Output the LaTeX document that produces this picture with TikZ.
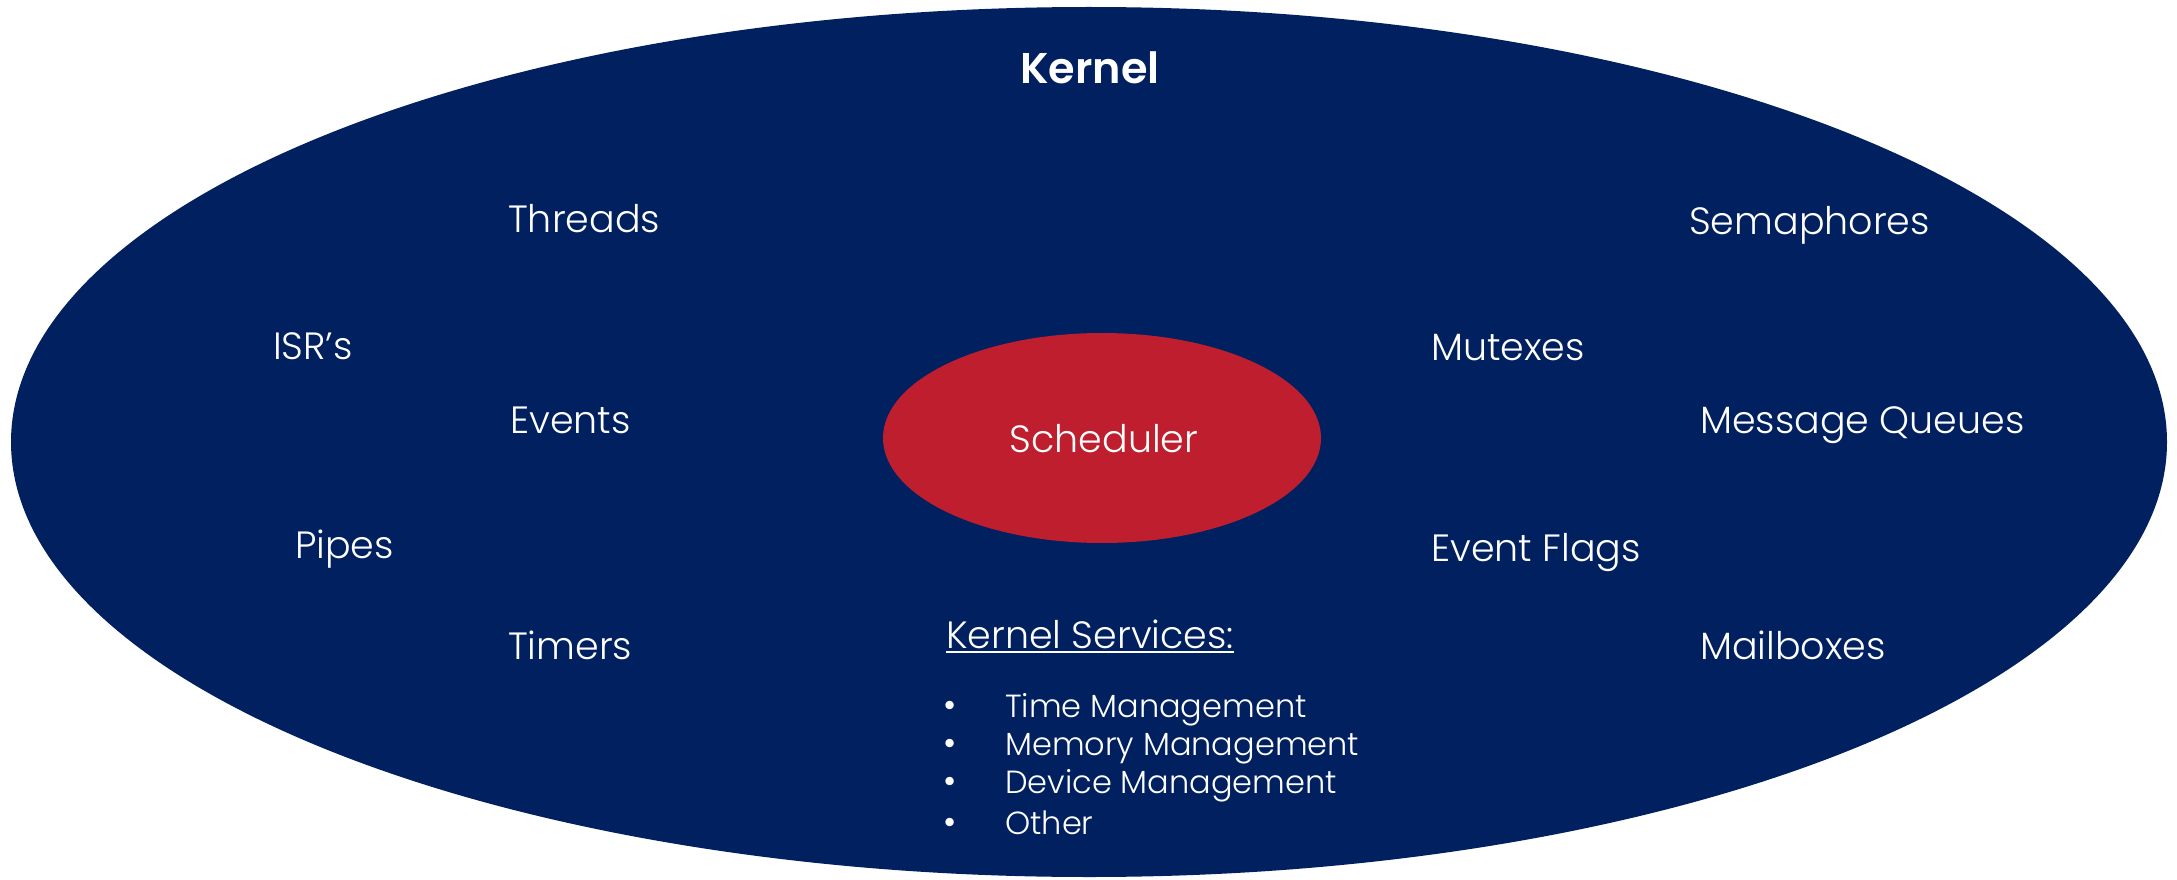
\documentclass[tikz,border=0pt]{standalone}
\usepackage{fontspec}
\usetikzlibrary{shapes.geometric}
\setmainfont{Poppins}[UprightFont={* Light}, BoldFont={* SemiBold}]
\definecolor{navy}{HTML}{002060}
\definecolor{schedred}{HTML}{BE1E2D}
\begin{document}
\begin{tikzpicture}[x=1pt,y=-1pt,
  lbl/.style={anchor=base west, inner sep=0pt, text=white, font=\fontsize{38}{46}\selectfont},
  small/.style={anchor=base west, inner sep=0pt, text=white, font=\fontsize{32}{39}\selectfont},
  bul/.style={anchor=base, inner sep=0pt, text=white, font=\fontsize{36}{39}\selectfont}]
\useasboundingbox (0,0) rectangle (2177,880);
\fill[white] (0,0) rectangle (2177,880);
\node[ellipse, fill=navy, minimum width=2156pt, minimum height=870pt, inner sep=0pt] (kernelell) at (1089,442) {};
\node[anchor=base, inner sep=0pt, text=white, font=\bfseries\fontsize{43}{51}\selectfont] (kernel) at (1090,84) {Kernel};
\node[ellipse, fill=schedred, minimum width=438pt, minimum height=210pt, inner sep=0pt] (schedell) at (1102,438) {};
\node[anchor=base, inner sep=0pt, text=white, font=\fontsize{38}{46}\selectfont] (sched) at (1104,452) {Scheduler};
% left
\node[lbl] (threads) at (508,232) {Threads};
\node[lbl] (isr) at (273,359) {ISR’s};
\node[lbl] (events) at (510,433) {Events};
\node[lbl] (pipes) at (295,558) {Pipes};
\node[lbl] (timers) at (508,659) {Timers};
% right
\node[lbl] (sema) at (1689,234) {Semaphores};
\node[lbl] (mutex) at (1431,360) {Mutexes};
\node[lbl] (mq) at (1700,433) {Message Queues};
\node[lbl] (eflags) at (1431,561) {Event Flags};
\node[lbl] (mail) at (1700,659) {Mailboxes};
% kernel services
\node[lbl] (ks) at (946,648) {Kernel Services:};
\draw[white, line width=1.6pt] ([yshift=-4pt]ks.base west) -- ([yshift=-4pt]ks.base east);
\node[bul] (b1) at (950,717) {•};
\node[small] (s1) at (1005,717) {Time Management};
\node[bul] (b2) at (950,755) {•};
\node[small] (s2) at (1005,755) {Memory Management};
\node[bul] (b3) at (950,793) {•};
\node[small] (s3) at (1005,793) {Device Management};
\node[bul] (b4) at (950,834) {•};
\node[small] (s4) at (1005,834) {Other};
\end{tikzpicture}
\end{document}
